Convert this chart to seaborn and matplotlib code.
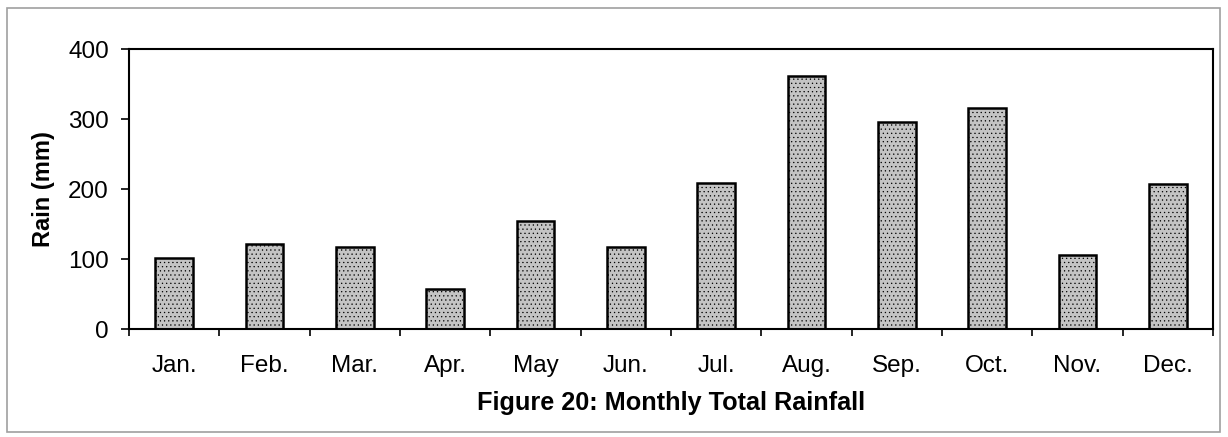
import matplotlib
matplotlib.use("Agg")
import matplotlib.pyplot as plt
from matplotlib.patches import Rectangle
from matplotlib.ticker import FixedLocator
import seaborn as sns
import pandas as pd

months = ["Jan.", "Feb.", "Mar.", "Apr.", "May", "Jun.",
          "Jul.", "Aug.", "Sep.", "Oct.", "Nov.", "Dec."]
rain_mm = [101, 121, 117, 57, 154, 117, 209, 362, 295, 315, 106, 207]
y_ticks = [0, 100, 200, 300, 400]

sns.set_style("white")
plt.rcParams["font.family"] = ["Liberation Sans", "DejaVu Sans"]
plt.rcParams["text.color"] = "black"
plt.rcParams["axes.labelcolor"] = "black"
plt.rcParams["xtick.color"] = "black"
plt.rcParams["ytick.color"] = "black"
plt.rcParams["hatch.linewidth"] = 0.4
plt.rcParams["hatch.color"] = "#6a6a6a"

df = pd.DataFrame({"month": months, "rain": rain_mm})

fig = plt.figure(figsize=(12.28, 4.37), dpi=100)
ax = fig.add_axes([129 / 1228, 1 - 329 / 437, 1084 / 1228, 280 / 437])

sns.barplot(data=df, x="month", y="rain", color="#c4c4c4", saturation=1,
            width=0.42, edgecolor="black", linewidth=1.8, ax=ax)
for p in ax.patches:
    p.set_hatch("....")

ax.set_xlim(-0.5, len(months) - 0.5)
ax.set_ylim(0, 400)
ax.set_yticks(y_ticks)
ax.xaxis.set_minor_locator(FixedLocator([i - 0.5 for i in range(len(months) + 1)]))
ax.tick_params(axis="x", which="major", length=0, pad=19, labelsize=17.5)
ax.tick_params(axis="x", which="minor", length=5, width=1.2, direction="out",
               bottom=True)
ax.tick_params(axis="y", length=5.5, width=1.2, direction="out", left=True,
               pad=9, labelsize=17.5)

for s in ax.spines.values():
    s.set_visible(True)
    s.set_color("black")
    s.set_linewidth(1.5)

ax.set_ylabel("Rain (mm)", fontsize=17, fontweight="bold")
ax.yaxis.set_label_coords(-0.068, 0.5)
ax.set_xlabel("Figure 20: Monthly Total Rainfall", fontsize=18.2,
              fontweight="bold")
ax.xaxis.set_label_coords(0.5, -0.22)

fig.add_artist(Rectangle((7 / 1228, 1 - 432 / 437), 1213 / 1228, 424 / 437,
                         transform=fig.transFigure, fill=False,
                         edgecolor="#a0a0a0", linewidth=1.2))

fig.savefig("out.png", dpi=100)
